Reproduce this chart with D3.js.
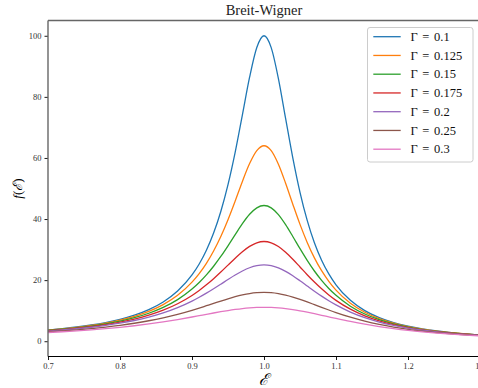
<!DOCTYPE html>
<html>
<head>
<meta charset="utf-8">
<script src="https://cdn.jsdelivr.net/npm/d3@7"></script>
<style>
  body { margin: 0; background: #fff; }
  svg { display: block; }
  text { font-family: "Liberation Serif", "DejaVu Serif", serif; }
</style>
</head>
<body>
<div id="chart"></div>
<script>
// energy grid (x values)
var energy = [0.70, 0.72, 0.74, 0.76, 0.78, 0.80, 0.82, 0.84, 0.86, 0.88,
    0.90, 0.91, 0.92, 0.93, 0.94, 0.95, 0.96, 0.97, 0.98, 0.99,
    1.00, 1.01, 1.02, 1.03, 1.04, 1.05, 1.06, 1.07, 1.08, 1.09,
    1.10, 1.12, 1.14, 1.16, 1.18, 1.20, 1.22, 1.24, 1.26, 1.28, 1.30];

var gammas = ["0.1", "0.125", "0.15", "0.175", "0.2", "0.25", "0.3"];
var colors = ["#1f77b4", "#ff7f0e", "#2ca02c", "#d62728", "#9467bd", "#8c564b", "#e377c2"];

var g010 = [3.702, 4.133, 4.658, 5.307, 6.122, 7.163, 8.524, 10.34, 12.85, 16.42,
    21.69, 25.28, 29.77, 35.40, 42.46, 51.26, 61.92, 74.13, 86.43, 96.15,
    100.0, 96.12, 85.97, 72.94, 60.03, 48.76, 39.56, 32.26, 26.53, 22.04,
    18.48, 13.38, 10.02, 7.726, 6.098, 4.912, 4.024, 3.344, 2.815, 2.395, 2.057];
var g0125 = [3.627, 4.039, 4.539, 5.153, 5.918, 6.886, 8.134, 9.776, 11.99, 15.03,
    19.33, 22.14, 25.50, 29.52, 34.28, 39.79, 45.92, 52.32, 58.16, 62.40,
    64.00, 62.40, 57.95, 51.72, 44.87, 38.26, 32.36, 27.30, 23.09, 19.61,
    16.74, 12.45, 9.489, 7.404, 5.896, 4.780, 3.935, 3.283, 2.771, 2.363, 2.034];
var g015 = [3.539, 3.930, 4.402, 4.977, 5.687, 6.575, 7.703, 9.160, 11.07, 13.62,
    17.07, 19.21, 21.70, 24.54, 27.74, 31.24, 34.90, 38.48, 41.55, 43.67,
    44.44, 43.67, 41.44, 38.15, 34.29, 30.29, 26.47, 22.99, 19.92, 17.28,
    15.02, 11.47, 8.908, 7.045, 5.666, 4.627, 3.831, 3.210, 2.719, 2.325, 2.006];
var g0175 = [3.440, 3.809, 4.250, 4.784, 5.436, 6.241, 7.249, 8.526, 10.16, 12.27,
    14.99, 16.62, 18.45, 20.46, 22.64, 24.92, 27.19, 29.31, 31.06, 32.23,
    32.65, 32.23, 31.00, 29.12, 26.82, 24.31, 21.78, 19.37, 17.15, 15.15,
    13.38, 10.49, 8.307, 6.664, 5.417, 4.460, 3.715, 3.129, 2.660, 2.282, 1.973];
var g020 = [3.332, 3.677, 4.087, 4.578, 5.172, 5.896, 6.788, 7.895, 9.276, 11.00,
    13.14, 14.38, 15.73, 17.17, 18.67, 20.20, 21.67, 22.99, 24.06, 24.75,
    25.00, 24.75, 24.02, 22.88, 21.43, 19.80, 18.09, 16.39, 14.77, 13.27,
    11.89, 9.549, 7.707, 6.272, 5.155, 4.281, 3.590, 3.039, 2.596, 2.234, 1.938];
var g025 = [3.100, 3.396, 3.743, 4.151, 4.633, 5.206, 5.889, 6.704, 7.674, 8.818,
    10.14, 10.86, 11.62, 12.38, 13.15, 13.89, 14.57, 15.15, 15.61, 15.90,
    16.00, 15.90, 15.59, 15.10, 14.46, 13.70, 12.86, 11.98, 11.09, 10.22,
    9.381, 7.860, 6.568, 5.496, 4.619, 3.905, 3.322, 2.845, 2.452, 2.127, 1.857];
var g030 = [2.856, 3.106, 3.394, 3.726, 4.109, 4.554, 5.068, 5.660, 6.337, 7.097,
    7.930, 8.365, 8.804, 9.238, 9.657, 10.05, 10.40, 10.70, 10.92, 11.06,
    11.11, 11.06, 10.91, 10.67, 10.35, 9.949, 9.498, 9.009, 8.497, 7.976,
    7.457, 6.463, 5.563, 4.775, 4.099, 3.526, 3.044, 2.638, 2.297, 2.010, 1.766];

var seriesValues = [g010, g0125, g015, g0175, g020, g025, g030];

var xTicks = [0.7, 0.8, 0.9, 1.0, 1.1, 1.2, 1.3];
var yTicks = [0, 20, 40, 60, 80, 100];

var totalW = 478, totalH = 388;
var margin = {top: 20.5, right: -2, bottom: 31.5, left: 48};
var width = totalW - margin.left - margin.right,
    height = totalH - margin.top - margin.bottom;

var svg = d3.select("#chart").append("svg")
    .attr("width", totalW)
    .attr("height", totalH);

var g = svg.append("g")
    .attr("transform", "translate(" + margin.left + "," + margin.top + ")");

var xScale = d3.scaleLinear().domain([0.7, 1.3]).range([0, width]);
var yScale = d3.scaleLinear().domain([-5, 105]).range([height, 0]);

g.append("clipPath").attr("id", "plotclip")
    .append("rect").attr("width", width).attr("height", height);

var line = d3.line()
    .x(function(d) { return xScale(d.e); })
    .y(function(d) { return yScale(d.v); })
    .curve(d3.curveMonotoneX);

var plot = g.append("g").attr("clip-path", "url(#plotclip)");
seriesValues.forEach(function(vals, i) {
    var pts = energy.map(function(e, j) { return {e: e, v: vals[j]}; });
    plot.append("path")
        .datum(pts)
        .attr("fill", "none")
        .attr("stroke", colors[i])
        .attr("stroke-width", 1.3)
        .attr("d", line);
});

// axes
var xAxis = d3.axisBottom(xScale).tickValues(xTicks).tickSize(3.5).tickPadding(3)
    .tickFormat(d3.format(".1f"));
var yAxis = d3.axisLeft(yScale).tickValues(yTicks).tickSize(3.5).tickPadding(3);

var gx = g.append("g").attr("transform", "translate(0," + height + ")").call(xAxis);
var gy = g.append("g").call(yAxis);
[gx, gy].forEach(function(a) {
    a.select(".domain").remove();
    a.selectAll("line").attr("stroke", "#000").attr("stroke-width", 0.9);
    a.selectAll("text")
        .style("font-family", "Liberation Serif, serif")
        .style("font-size", "8.5px")
        .attr("fill", "#333");
});

// frame
g.append("line").attr("x1", 0).attr("x2", 0).attr("y1", 0).attr("y2", height)
    .attr("stroke", "#666").attr("stroke-width", 1.4);
g.append("line").attr("x1", 0).attr("x2", width).attr("y1", 0).attr("y2", 0)
    .attr("stroke", "#666").attr("stroke-width", 1.4);
g.append("line").attr("x1", 0).attr("x2", width).attr("y1", height).attr("y2", height)
    .attr("stroke", "#000").attr("stroke-width", 1);

// title and labels
svg.append("text")
    .attr("x", margin.left + xScale(1.0))
    .attr("y", 15)
    .attr("text-anchor", "middle")
    .style("font-size", "14.5px")
    .attr("fill", "#222")
    .text("Breit-Wigner");

svg.append("text")
    .attr("x", margin.left + xScale(1.0))
    .attr("y", 385)
    .attr("text-anchor", "middle")
    .style("font-size", "16px")
    .style("font-style", "italic")
    .text("\u2130");

svg.append("text")
    .attr("transform", "translate(22," + (margin.top + yScale(50)) + ") rotate(-90)")
    .attr("text-anchor", "middle")
    .style("font-size", "13px")
    .html('<tspan font-style="italic">f</tspan>(<tspan font-style="italic">\u2130</tspan>)');

// legend
var legend = svg.append("g").attr("transform", "translate(367.5,27.5)");
legend.append("rect")
    .attr("width", 105.5).attr("height", 134.5)
    .attr("rx", 2.5)
    .attr("fill", "#fff").attr("fill-opacity", 0.8)
    .attr("stroke", "#ccc").attr("stroke-width", 1);

gammas.forEach(function(gm, i) {
    var row = legend.append("g").attr("transform", "translate(0," + (9.2 + i * 18.75) + ")");
    row.append("line")
        .attr("x1", 5.8).attr("x2", 33.2)
        .attr("stroke", colors[i]).attr("stroke-width", 1.3);
    row.append("text")
        .attr("x", 43)
        .attr("y", 4.2)
        .style("font-size", "12.5px")
        .style("word-spacing", "1.5px")
        .attr("fill", "#111")
        .text("\u0393 = " + gm);
});
</script>
</body>
</html>
